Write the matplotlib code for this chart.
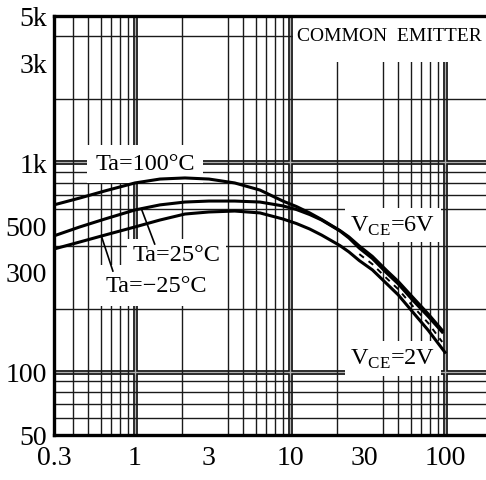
import numpy as np
import matplotlib
matplotlib.use('Agg')
import matplotlib.pyplot as plt
from matplotlib.ticker import LogLocator, FixedLocator, NullFormatter
from matplotlib.patches import Rectangle

plt.rcParams['font.family'] = ['Liberation Serif', 'DejaVu Serif']
plt.rcParams['mathtext.fontset'] = 'custom'
plt.rcParams['mathtext.rm'] = 'Liberation Serif'

# collector current (mA) and DC current gain for each temperature
ic = [0.3, 0.44, 0.64, 1, 1.45, 2.1, 3, 4.4, 6.4, 9, 11, 13.4, 16, 21, 24, 28,
      34, 42, 50, 62, 78, 96]
hfe_100 = [627, 676, 731, 798, 833, 843, 833, 798, 738, 654, 616, 574, 534, 473,
           441, 399, 356, 305, 270, 227, 189, 158]
hfe_25 = [446, 492, 537, 593, 627, 647, 654, 654, 647, 620, 596, 564, 531, 471,
          436, 390, 348, 297, 263, 220, 184, 155]
ic_m25 = [0.3, 0.44, 0.64, 1, 1.45, 2.1, 3, 4.4, 6.4, 9, 11, 13.4, 16, 21, 24, 28,
          34, 42, 50, 62, 78, 100]
hfe_m25 = [386, 417, 450, 492, 531, 567, 580, 586, 574, 537, 511, 481, 450, 401,
           374, 340, 307, 264, 233, 193, 158, 124]

# VCE = 2V branch at high current
ic_2v = [28, 34, 42, 50, 62, 78, 96]
hfe_2v = [365, 327, 280, 248, 206, 171, 139]

xticks = [0.3, 1, 3, 10, 30, 100]
xlabels = ['0.3', '1', '3', '10', '30', '100']
yticks = [50, 100, 300, 500, 1000, 3000, 5000]
ylabels = ['50', '100', '300', '500', '1k', '3k', '5k']

fig = plt.figure(figsize=(4.86, 4.81), dpi=100)
ax = fig.add_axes([0.111, 0.0936, 0.889, 0.8711])
ax.set_xscale('log')
ax.set_yscale('log')
ax.set_xlim(0.3, 184)
ax.set_ylim(50, 5000)

# fine grid on every 1..9 multiple, double lines at the decades
ax.xaxis.set_minor_locator(LogLocator(base=10, subs=np.arange(1, 10)))
ax.yaxis.set_minor_locator(LogLocator(base=10, subs=np.arange(1, 10)))
ax.xaxis.set_minor_formatter(NullFormatter())
ax.yaxis.set_minor_formatter(NullFormatter())
ax.grid(which='minor', color='#1a1a1a', lw=1.0, zorder=1)
ax.grid(which='major', visible=False)
for d in [1, 10, 100]:
    ax.axvline(d, color='#111111', lw=3.4, zorder=1.1)
    ax.axvline(d, color='#b0b0b0', lw=1.0, zorder=1.2)
for d in [100, 1000]:
    ax.axhline(d, color='#111111', lw=3.4, zorder=1.1)
    ax.axhline(d, color='#b0b0b0', lw=1.0, zorder=1.2)

ax.xaxis.set_major_locator(FixedLocator(xticks))
ax.set_xticklabels(xlabels)
ax.yaxis.set_major_locator(FixedLocator(yticks))
ax.set_yticklabels(ylabels)
ax.tick_params(which='both', length=0)
ax.tick_params(axis='x', labelsize=20, pad=7)
ax.tick_params(axis='y', labelsize=20, pad=5)

for side in ['left', 'bottom', 'top']:
    ax.spines[side].set_linewidth(2.4)
ax.spines['right'].set_visible(False)

# curves
ax.plot(ic, hfe_100, color='black', lw=2.2, zorder=4)
ax.plot(ic, hfe_25, color='black', lw=2.2, zorder=4)
ax.plot(ic_m25, hfe_m25, color='black', lw=2.2, zorder=4)
ax.plot(ic_2v, hfe_2v, color='black', lw=1.4, ls=(0, (3, 3)), zorder=4)

# white box behind the heading
ax.add_patch(Rectangle((10.4, 3000), 184 - 10.4, 2000, facecolor='white',
                       edgecolor='none', zorder=2))
ax.text(44, 4050, 'COMMON  EMITTER', fontsize=14, ha='center', va='center', zorder=5)

box = dict(facecolor='white', edgecolor='none', pad=4)
ax.text(1.16, 985, 'Ta=100°C', fontsize=17.5, ha='center', va='center',
        bbox=dict(facecolor='white', edgecolor='none', pad=6), zorder=3)
ax.text(1.84, 362, 'Ta=25°C', fontsize=17.5, ha='center', va='center',
        bbox=box, zorder=3)
ax.text(1.37, 258, 'Ta=−25°C', fontsize=17.5, ha='center', va='center',
        bbox=dict(facecolor='white', edgecolor='none', pad=7), zorder=3)
ax.text(46, 503, r'V$_{\mathrm{CE}}$=6V', fontsize=17.5, ha='center', va='center',
        bbox=box, zorder=3)
ax.text(46, 116, r'V$_{\mathrm{CE}}$=2V', fontsize=17.5, ha='center', va='center',
        bbox=box, zorder=3)

# leader lines from the labels to their curves
ax.plot([1.34, 1.1], [408, 600], color='black', lw=1.2, zorder=4)
ax.plot([0.72, 0.61], [303, 440], color='black', lw=1.2, zorder=4)

fig.savefig('out.png', dpi=100)
